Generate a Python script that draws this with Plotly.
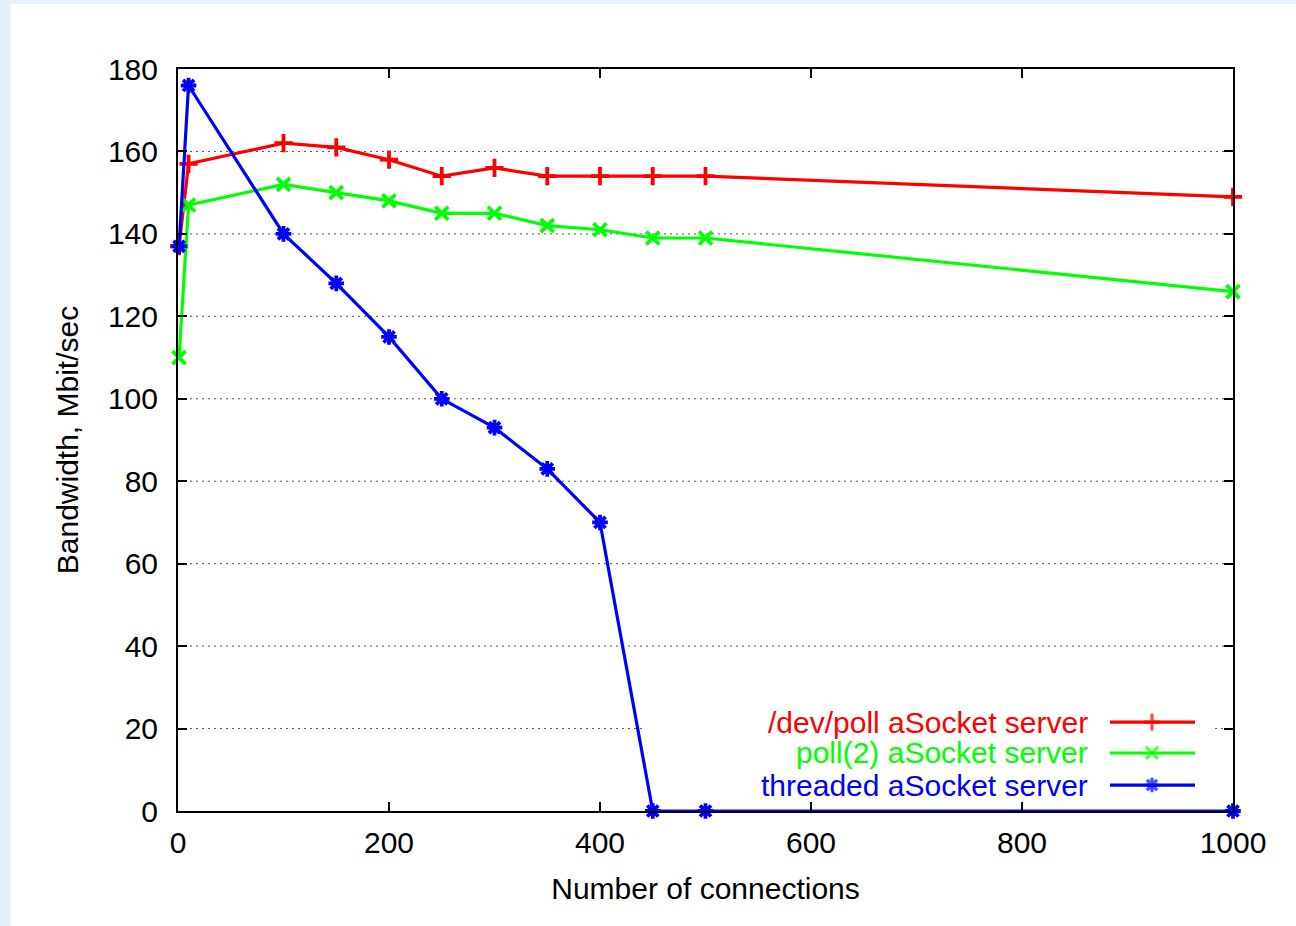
import plotly.graph_objects as go

connections = [1, 10, 100, 150, 200, 250, 300, 350, 400, 450, 500, 1000]
devpoll = [137, 157, 162, 161, 158, 154, 156, 154, 154, 154, 154, 149]
poll2 = [110, 147, 152, 150, 148, 145, 145, 142, 141, 139, 139, 126]
threaded = [137, 176, 140, 128, 115, 100, 93, 83, 70, 0, 0, 0]

series_names = ["/dev/poll aSocket server", "poll(2) aSocket server", "threaded aSocket server"]
series_colors = ["#ff0000", "#00ff00", "#0000ff"]
series_symbols = ["cross-thin", "x-thin", "asterisk"]
series_values = [devpoll, poll2, threaded]

x_ticks = [0, 200, 400, 600, 800, 1000]
y_ticks = [0, 20, 40, 60, 80, 100, 120, 140, 160, 180]

FONT = "Liberation Sans, Arial, sans-serif"
FS = 30

# key box extent (fraction of plot width / height) which hides the grid
KEY_X0, KEY_X1, KEY_Y0, KEY_Y1 = 0.44, 0.983, 0.06, 0.16

fig = go.Figure()

# white page area
fig.add_shape(type="rect", xref="paper", yref="paper",
              x0=-0.1583, x1=1.07, y0=-0.17, y1=1.0876,
              fillcolor="white", line=dict(width=0), layer="below")

# dotted horizontal grid, interrupted by the opaque key box
grid_line = dict(color="#555555", width=1, dash="2px,4px")
for yv in y_ticks[1:-1]:
    frac = (yv - y_ticks[0]) / (y_ticks[-1] - y_ticks[0])
    if KEY_Y0 <= frac <= KEY_Y1:
        fig.add_shape(type="line", xref="paper", yref="y", x0=0, x1=KEY_X0, y0=yv, y1=yv,
                      line=grid_line, layer="below")
        fig.add_shape(type="line", xref="paper", yref="y", x0=KEY_X1, x1=1, y0=yv, y1=yv,
                      line=grid_line, layer="below")
    else:
        fig.add_shape(type="line", xref="paper", yref="y", x0=0, x1=1, y0=yv, y1=yv,
                      line=grid_line, layer="below")

for name, col, sym, vals in zip(series_names, series_colors, series_symbols, series_values):
    fig.add_trace(go.Scatter(
        x=connections, y=vals, mode="lines+markers", name=name,
        line=dict(color=col, width=3.2),
        marker=dict(symbol=sym, size=13, color=col, line=dict(color=col, width=3.8)),
        cliponaxis=False, showlegend=False,
    ))

# custom legend (text left of sample, right-aligned, coloured)
leg_rows = [0.1199, 0.0782, 0.035]
for name, col, sym, yr in zip(series_names, series_colors, series_symbols, leg_rows):
    fig.add_trace(go.Scatter(
        x=[0.8834, 0.9232, 0.964], y=[yr, yr, yr], mode="lines+markers",
        xaxis="x2", yaxis="y2",
        line=dict(color=col, width=3.2),
        marker=dict(symbol=sym, size=[0, 12, 0], color=col, line=dict(color=col, width=3.2)),
        showlegend=False, hoverinfo="skip", cliponaxis=False,
    ))
    fig.add_annotation(xref="paper", yref="paper", x=0.8645, y=yr, text=name,
                       showarrow=False, xanchor="right", yanchor="middle",
                       font=dict(family=FONT, size=FS, color=col))

axis_common = dict(
    showline=True, linecolor="black", linewidth=2, mirror="ticks",
    ticks="inside", ticklen=9, tickwidth=1.5, tickcolor="black",
    tickfont=dict(family=FONT, size=FS, color="black"),
    zeroline=False, showgrid=False,
)

fig.update_layout(
    width=1296, height=926,
    margin=dict(l=178, r=63, t=69, b=115),
    paper_bgcolor="#e6f0fc", plot_bgcolor="white",
    font=dict(family=FONT, size=FS, color="black"),
    xaxis=dict(range=[0, 1000], tickvals=x_ticks,
               ticklabelstandoff=4,
               title=dict(text="Number of connections", standoff=20,
                          font=dict(family=FONT, size=FS)),
               **axis_common),
    yaxis=dict(range=[0, 180], tickvals=y_ticks,
               ticklabelstandoff=12,
               title=dict(text="Bandwidth, Mbit/sec", standoff=20,
                          font=dict(family=FONT, size=FS)),
               **axis_common),
    xaxis2=dict(range=[0, 1], overlaying="x", visible=False),
    yaxis2=dict(range=[0, 1], overlaying="y", visible=False),
)

fig.write_html("out.html")
